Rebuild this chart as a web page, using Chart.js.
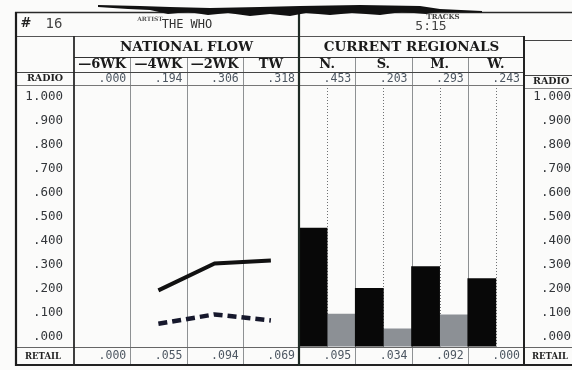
<!DOCTYPE html>
<html>
<head>
<meta charset="utf-8">
<script src="https://cdn.jsdelivr.net/npm/chart.js@4"></script>
<style>
  html, body { margin: 0; padding: 0; background: #fbfbfa; }
  canvas { display: block; }
</style>
</head>
<body>
<canvas id="flowChart" width="572" height="370"></canvas>
<script>
const weeks = ["—6WK", "—4WK", "—2WK", "TW"];
const regions = ["N.", "S.", "M.", "W."];
const nationalRadio = [0.000, 0.194, 0.306, 0.318];
const nationalRetail = [0.000, 0.055, 0.094, 0.069];
const regionalRadio = [0.453, 0.203, 0.293, 0.243];
const regionalRetail = [0.095, 0.034, 0.092, 0.000];
const tickLabels = ["1.000", ".900", ".800", ".700", ".600", ".500", ".400", ".300", ".200", ".100", ".000"];

const Y_MIN = -0.04;
const Y_MAX = 1.045;

const serifBold = size => `bold ${size}px "DejaVu Serif"`;
const mono = size => `${size}px "DejaVu Sans Mono"`;
const fmt = v => v.toFixed(3).replace(/^0/, "");

// zero readings are left off the graph
const plotted = v => (v > 0 ? v : null);
const bar = v => (v > 0 ? [Y_MIN, v] : null);
const blanks = arr => arr.map(() => null);

function rule(ctx, x1, y1, x2, y2, color, width) {
    ctx.beginPath();
    ctx.strokeStyle = color;
    ctx.lineWidth = width;
    ctx.moveTo(x1, y1);
    ctx.lineTo(x2, y2);
    ctx.stroke();
}

function label(ctx, str, x, y, font, color, align) {
    ctx.font = font;
    ctx.fillStyle = color;
    ctx.textAlign = align || "center";
    ctx.textBaseline = "middle";
    ctx.fillText(str, x, y);
}

const formPlugin = {
    id: "form",
    beforeDatasetsDraw(chart) {
        const { ctx, chartArea: a, scales: { x } } = chart;
        const half = (x.getPixelForValue(1) - x.getPixelForValue(0)) / 2;
        const count = weeks.length + regions.length;
        ctx.save();

        /* thin column rules */
        for (let i = 1; i < count; i++) {
            if (i === weeks.length) continue;
            const px = Math.round(x.getPixelForValue(i) - half) + 0.5;
            rule(ctx, px, 57, px, 365, "#8e9193", 1);
        }

        /* dotted centre rules in the regional columns */
        ctx.setLineDash([1, 2]);
        regions.forEach((r, j) => {
            const px = Math.round(x.getPixelForValue(weeks.length + j)) + 0.5;
            rule(ctx, px, 88, px, a.bottom, "#6f7173", 1);
        });
        ctx.restore();
    },
    afterDatasetsDraw(chart) {
        const { ctx, chartArea: a, scales: { x, y } } = chart;
        const half = (x.getPixelForValue(1) - x.getPixelForValue(0)) / 2;
        const mid = x.getPixelForValue(weeks.length) - half;
        ctx.save();

        /* frame */
        rule(ctx, 15, 12.5, 572, 12.5, "#2a2a2a", 1.5);
        rule(ctx, 15, 36.5, a.right, 36.5, "#555", 1);
        rule(ctx, a.left, 57.5, a.right, 57.5, "#333", 1.2);
        rule(ctx, 15, 72.5, a.right, 72.5, "#444", 1.2);
        rule(ctx, 15, 85.5, a.right, 85.5, "#777", 1);
        rule(ctx, a.right, 40.5, 572, 40.5, "#444", 1.2);
        rule(ctx, a.right, 75.5, 572, 75.5, "#444", 1.2);
        rule(ctx, a.right, 88.5, 572, 88.5, "#888", 1);
        rule(ctx, 15, 347.5, 572, 347.5, "#666", 1.2);
        rule(ctx, 15, 365, 572, 365, "#222", 1.8);

        rule(ctx, 16, 12, 16, 366, "#1c1c1c", 2.2);
        rule(ctx, a.left, 36, a.left, 366, "#2a2a2a", 1.8);
        rule(ctx, mid, 12, mid, 366, "#1e2a24", 2.2);
        rule(ctx, a.right, 36, a.right, 366, "#222", 2);

        /* title row */
        label(ctx, "#", 26, 24, serifBold(13), "#222");
        label(ctx, "16", 54, 24, mono(14), "#444");
        label(ctx, "ARTIST", 150, 19, serifBold(6), "#555");
        label(ctx, "THE WHO", 187, 25, mono(12), "#333");
        label(ctx, "TRACKS", 443, 17, serifBold(7), "#444");
        label(ctx, "5:15", 431, 27, mono(13), "#444");

        /* section headings */
        label(ctx, "NATIONAL FLOW", (a.left + mid) / 2, 47, serifBold(13.5), "#1a1a1a");
        label(ctx, "CURRENT REGIONALS", (mid + a.right) / 2, 47, serifBold(13.5), "#1a1a1a");

        const colRight = i => x.getPixelForValue(i) + half - 4;
        weeks.forEach((w, i) => {
            const px = x.getPixelForValue(i);
            label(ctx, w, px, 65, serifBold(13), "#1a1a1a");
            label(ctx, fmt(nationalRadio[i]), colRight(i), 79, mono(11.5), "#4d5762", "right");
            label(ctx, fmt(nationalRetail[i]), colRight(i), 356, mono(11.5), "#4d5762", "right");
        });
        regions.forEach((r, j) => {
            const i = weeks.length + j;
            label(ctx, r, x.getPixelForValue(i), 65, serifBold(13), "#1a1a1a");
            label(ctx, fmt(regionalRadio[j]), colRight(i), 79, mono(11.5), "#4d5762", "right");
            label(ctx, fmt(regionalRetail[j]), colRight(i), 356, mono(11.5), "#4d5762", "right");
        });

        /* row captions */
        label(ctx, "RADIO", 45, 79, serifBold(9.5), "#222");
        label(ctx, "RETAIL", 43, 357, serifBold(8.5), "#222");
        label(ctx, "RADIO", 533, 82, serifBold(9.5), "#222", "left");
        label(ctx, "RETAIL", 532, 357, serifBold(8.5), "#222", "left");

        /* scale down both sides */
        tickLabels.forEach(t => {
            const py = y.getPixelForValue(parseFloat(t));
            label(ctx, t, 63, py, mono(12.5), "#33363a", "right");
            label(ctx, t, 571, py, mono(12.5), "#33363a", "right");
        });

        /* torn top edge of the sheet */
        const tear = [
            [98, 5], [140, 6], [170, 7], [210, 8], [260, 7], [300, 6], [360, 5], [420, 6], [440, 9], [482, 11],
            [482, 12.5], [440, 12], [426, 14], [402, 12], [380, 15], [352, 13], [330, 15], [306, 13], [290, 16],
            [270, 14], [250, 16], [228, 13], [208, 15], [188, 12], [168, 14], [150, 10], [128, 9], [98, 7]
        ];
        ctx.beginPath();
        tear.forEach(([px, py], k) => (k ? ctx.lineTo(px, py) : ctx.moveTo(px, py)));
        ctx.closePath();
        ctx.fillStyle = "#111";
        ctx.fill();
        ctx.restore();
    }
};

new Chart(document.getElementById("flowChart"), {
    type: "bar",
    data: {
        labels: [...weeks, ...regions],
        datasets: [
            {
                type: "line",
                data: [...nationalRadio.map(plotted), ...blanks(regions)],
                borderColor: "#111",
                borderWidth: 4,
                pointRadius: 0,
                tension: 0
            },
            {
                type: "line",
                data: [...nationalRetail.map(plotted), ...blanks(regions)],
                borderColor: "#16182c",
                borderWidth: 4.5,
                borderDash: [9, 5],
                pointRadius: 0,
                tension: 0
            },
            {
                data: [...blanks(weeks), ...regionalRadio.map(bar)],
                backgroundColor: "#080808",
                barPercentage: 1,
                categoryPercentage: 1
            },
            {
                data: [...blanks(weeks), ...regionalRetail.map(bar)],
                backgroundColor: "#8c9095",
                barPercentage: 1,
                categoryPercentage: 1
            }
        ]
    },
    options: {
        responsive: false,
        animation: false,
        layout: { padding: { left: 74, right: 48, top: 86, bottom: 23.4 } },
        plugins: { legend: { display: false }, tooltip: { enabled: false } },
        scales: {
            x: { display: false },
            y: { display: false, min: Y_MIN, max: Y_MAX }
        }
    },
    plugins: [formPlugin]
});
</script>
</body>
</html>
